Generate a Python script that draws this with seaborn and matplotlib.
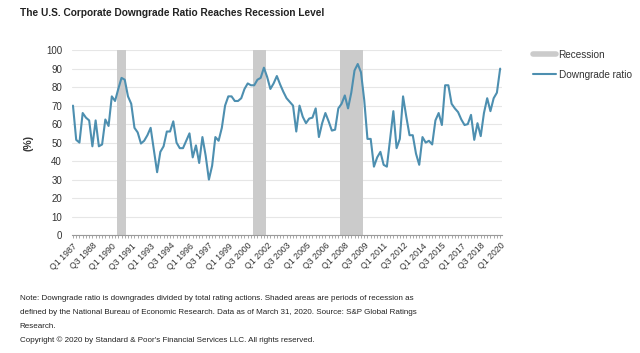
import numpy as np
import pandas as pd
import seaborn as sns
import matplotlib.pyplot as plt
from matplotlib.lines import Line2D

# quarterly downgrade ratio, Q1 1987 .. Q1 2020
ratio = [70, 51.5, 50, 66, 63.5, 62, 48, 62, 48, 49,
         62.5, 59, 75, 72.5, 79, 85, 84, 75, 71, 58,
         55.5, 49.5, 51, 54, 58, 46, 34, 45, 48, 56,
         56, 61.5, 50, 47, 47, 51, 55, 42, 48.5, 39,
         53, 43, 30, 37.5, 53, 51, 58, 70, 75, 75,
         72.5, 72.5, 74, 79, 82, 81, 81, 84, 85, 90.5,
         85.5, 79, 82, 86, 81.5, 77.5, 74, 72, 70, 56,
         70, 64, 60.5, 63, 63.5, 68.5, 53, 60.5, 66, 61.5,
         56.5, 57, 68.5, 71, 75.5, 68.5, 77, 89, 92.5, 88,
         73, 52, 52, 37, 42, 45, 38, 37, 52, 67,
         47, 52, 75, 64, 54, 54, 44, 38, 53, 50,
         51, 49, 62, 66, 59.5, 81, 81, 71, 68.5, 66.5,
         62.5, 59.5, 60, 65, 51.5, 60.5, 53.5, 66, 74, 67,
         74, 77, 90]

quarters = [f"Q{q} {y}" for y in range(1987, 2021) for q in range(1, 5)][:len(ratio)]

# recessions (first quarter, last quarter)
recessions = [("Q3 1990", "Q1 1991"), ("Q1 2001", "Q4 2001"), ("Q4 2007", "Q2 2009")]

df = pd.DataFrame({"quarter": quarters, "ratio": ratio})
df["idx"] = np.arange(len(df))

sns.set_style("white")
plt.rcParams['font.family'] = ['Liberation Sans', 'DejaVu Sans']

line_col = '#4d8fb0'
band_col = '#cbcbcb'

fig = plt.figure(figsize=(6.4, 3.53), dpi=100)
ax = fig.add_axes([0.112, 0.334, 0.672, 0.524])

for start, end in recessions:
    ax.axvspan(quarters.index(start) - 0.5, quarters.index(end) + 0.5,
               color=band_col, lw=0, zorder=1)

sns.lineplot(data=df, x="idx", y="ratio", ax=ax, color=line_col, lw=1.5, zorder=3)

ax.set_ylim(0, 100)
ax.set_xlim(-0.4, 132.5)
ax.set_yticks(range(0, 101, 10))
ax.yaxis.grid(True, color='#e6e6e6', lw=0.8)
ax.set_axisbelow(True)
ax.set_xticks(df["idx"][::6])
ax.set_xticklabels(df["quarter"][::6], rotation=45, ha='right', rotation_mode='anchor')
ax.set_xticks(df["idx"], minor=True)
ax.tick_params(axis='x', which='both', bottom=True, length=2.5, width=0.6, color='#9a9a9a',
               labelsize=6.3, labelcolor='#333333', pad=2)
ax.tick_params(axis='y', length=0, labelsize=7, labelcolor='#333333', pad=7)
for s in ['top', 'right', 'left']:
    ax.spines[s].set_visible(False)
ax.spines['bottom'].set_color('#9a9a9a')
ax.spines['bottom'].set_linewidth(0.8)
ax.set_xlabel("")
ax.set_ylabel("(%)", fontsize=7.5, fontweight='bold', color='#333333', labelpad=9)

handles = [Line2D([0], [0], color=band_col, lw=4),
           Line2D([0], [0], color=line_col, lw=1.5)]
fig.legend(handles, ["Recession", "Downgrade ratio"], loc='upper left',
           bbox_to_anchor=(0.818, 0.885), frameon=False, fontsize=7.2,
           handlelength=2.3, handletextpad=0.3, labelspacing=1.0, labelcolor='#333333')

fig.text(0.031, 0.963, "The U.S. Corporate Downgrade Ratio Reaches Recession Level",
         fontsize=7.3, fontweight='bold', color='#222222', va='center')

notes = ["Note: Downgrade ratio is downgrades divided by total rating actions. Shaded areas are periods of recession as",
         "defined by the National Bureau of Economic Research. Data as of March 31, 2020. Source: S&P Global Ratings",
         "Research.",
         "Copyright \u00a9 2020 by Standard & Poor's Financial Services LLC. All rights reserved."]
for i, line in enumerate(notes):
    fig.text(0.031, 1 - (298 + i * 14.2) / 353, line, fontsize=5.75, color='#222222', va='center')

fig.savefig("out.png", dpi=100, facecolor='white')
